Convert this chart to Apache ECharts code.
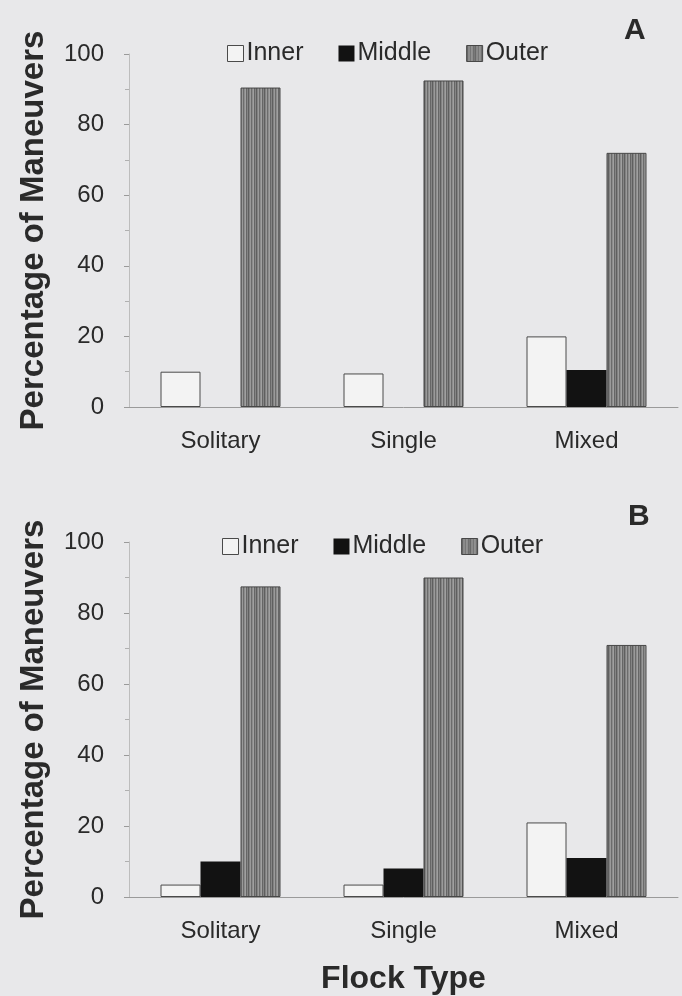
<!DOCTYPE html>
<html>
<head>
<meta charset="utf-8">
<script src="https://cdn.jsdelivr.net/npm/echarts@6/dist/echarts.min.js"></script>
<style>
html,body{margin:0;padding:0;background:#e8e8ea;}
#chart{width:682px;height:996px;}
</style>
</head>
<body>
<div id="chart"></div>
<script>
// ---- data ----
var categories = ['Solitary', 'Single', 'Mixed'];
var seriesNames = ['Inner', 'Middle', 'Outer'];
var innerA  = [10, 9.5, 20];
var middleA = [0, 0, 10.5];
var outerA  = [90.5, 92.5, 72];
var innerB  = [3.5, 3.5, 21];
var middleB = [10, 8, 11];
var outerB  = [87.5, 90, 71];
var yMin = 0, yMax = 100, yInterval = 20;

// ---- styles ----
function stripePattern() {
  var c = document.createElement('canvas');
  c.width = 8; c.height = 4;
  var ctx = c.getContext('2d');
  var cols = ['#5f5f5f', '#828282', '#9a9a9a', '#6c6c6c', '#8c8c8c', '#a0a0a0', '#666666', '#858585'];
  for (var i = 0; i < cols.length; i++) {
    ctx.fillStyle = cols[i];
    ctx.fillRect(i, 0, 1, 4);
  }
  return { image: c, repeat: 'repeat' };
}
var outerFill = stripePattern();
var styles = {
  Inner:  { color: '#f3f3f3', borderColor: '#4a4a4a', borderWidth: 1 },
  Middle: { color: '#121212', borderColor: '#121212', borderWidth: 0 },
  Outer:  { color: outerFill, borderColor: '#474747', borderWidth: 1 }
};
var textColor = '#2a2a2a';
var fontFam = 'Liberation Sans, Arial, sans-serif';

var grids = [
  { left: 129, right: 4, top: 54, height: 353 },
  { left: 129, right: 4, top: 542, height: 355 }
];

function makeX(idx, withName) {
  var ax = {
    type: 'category', gridIndex: idx, data: categories,
    axisLine: { show: true, lineStyle: { color: '#9a9a9a', width: 1 } },
    axisTick: { show: false },
    axisLabel: { margin: 22, fontSize: 24, color: textColor, fontFamily: fontFam },
    splitLine: { show: false }
  };
  if (withName) {
    ax.name = 'Flock Type';
    ax.nameLocation = 'middle';
    ax.nameGap = 66;
    ax.nameTextStyle = { fontSize: 32, fontWeight: 'bold', color: textColor, fontFamily: fontFam };
  }
  return ax;
}
function makeY(idx) {
  return {
    type: 'value', gridIndex: idx, min: yMin, max: yMax, interval: yInterval,
    name: 'Percentage of Maneuvers', nameLocation: 'middle', nameGap: 79, nameRotate: 90,
    nameTextStyle: { fontSize: 33, fontWeight: 'bold', color: textColor, fontFamily: fontFam },
    axisLine: { show: true, lineStyle: { color: '#bdbdbd', width: 1 } },
    axisTick: { show: true, length: 5, lineStyle: { color: '#9a9a9a' } },
    minorTick: { show: true, splitNumber: 2, length: 4, lineStyle: { color: '#b0b0b0' } },
    axisLabel: { margin: 25, fontSize: 24, color: textColor, fontFamily: fontFam },
    splitLine: { show: false }
  };
}
function makeLegend(left, top) {
  return {
    left: left, top: top, orient: 'horizontal',
    itemWidth: 16, itemHeight: 16, itemGap: 35,
    icon: 'rect',
    textStyle: { fontSize: 25, color: textColor, fontFamily: fontFam, padding: [0, 0, 0, -2] },
    data: seriesNames.map(function (n) { return { name: n, itemStyle: styles[n] }; })
  };
}
function makeSeries(name, data, idx) {
  return {
    name: name, type: 'bar', xAxisIndex: idx, yAxisIndex: idx,
    data: data, barWidth: 40, barGap: '0%',
    itemStyle: styles[name], emphasis: { disabled: true }
  };
}

var chart = echarts.init(document.getElementById('chart'), null, { renderer: 'canvas' });
chart.setOption({
  backgroundColor: '#e8e8ea',
  animation: false,
  grid: grids,
  xAxis: [makeX(0, false), makeX(1, true)],
  yAxis: [makeY(0), makeY(1)],
  legend: [makeLegend(222, 36), makeLegend(217, 529)],
  series: [
    makeSeries('Inner', innerA, 0),
    makeSeries('Middle', middleA, 0),
    makeSeries('Outer', outerA, 0),
    makeSeries('Inner', innerB, 1),
    makeSeries('Middle', middleB, 1),
    makeSeries('Outer', outerB, 1)
  ],
  graphic: [
    { type: 'text', left: 624, top: 16, style: { text: 'A', fontSize: 30, fontWeight: 'bold', fill: textColor, fontFamily: fontFam } },
    { type: 'text', left: 628, top: 502, style: { text: 'B', fontSize: 30, fontWeight: 'bold', fill: textColor, fontFamily: fontFam } }
  ]
});
</script>
</body>
</html>
